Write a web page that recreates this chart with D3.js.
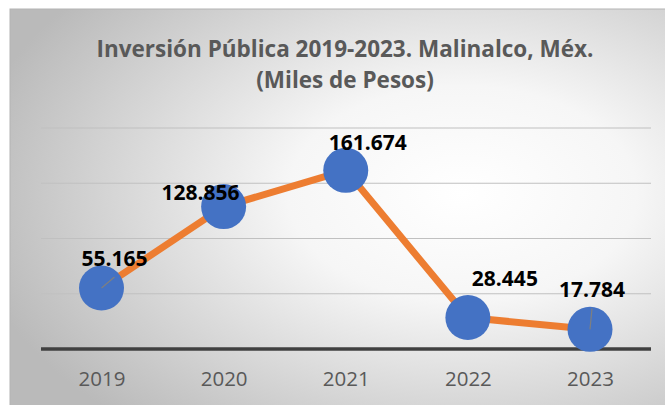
<!DOCTYPE html>
<html lang="es">
<head>
<meta charset="UTF-8">
<title>Inversión Pública 2019-2023</title>
<script src="https://d3js.org/d3.v7.min.js"></script>
<style>
  body { margin: 0; background: #fff; }
  text { font-family: "Open Sans", "Noto Sans", sans-serif; }
</style>
</head>
<body>
<svg width="665" height="405"></svg>
<script>
// data
const years = ["2019", "2020", "2021", "2022", "2023"];
const values = [55.165, 128.856, 161.674, 28.445, 17.784];
const labels = ["55.165", "128.856", "161.674", "28.445", "17.784"];
const gridTicks = [0, 50, 100, 150, 200];
// label offsets from the point (dx, dy)
const labelDx = [13, -23, 22, 37, 2];
const labelDy = [-22, -7, -20, -32, -32];

const svg = d3.select("svg");

// background gradient for the chart area
const defs = svg.append("defs");
const grad = defs.append("radialGradient")
    .attr("id", "bg")
    .attr("cx", "0.68").attr("cy", "0.45").attr("r", "0.75");
grad.append("stop").attr("offset", "0").attr("stop-color", "#ffffff");
grad.append("stop").attr("offset", "0.35").attr("stop-color", "#f6f6f6");
grad.append("stop").attr("offset", "1").attr("stop-color", "#bababa");

svg.append("rect")
    .attr("x", 10).attr("y", 9)
    .attr("width", 665).attr("height", 410)
    .attr("fill", "url(#bg)")
    .attr("stroke", "#b4b4b4")
    .attr("stroke-width", 1);

// title
const title = svg.append("text")
    .attr("text-anchor", "middle")
    .attr("fill", "#595959")
    .attr("font-weight", "bold")
    .attr("font-size", 22.5);
title.append("tspan").attr("x", 345).attr("y", 57).text("Inversión Pública 2019-2023. Malinalco, Méx.");
title.append("tspan").attr("x", 345).attr("y", 88).text("(Miles de Pesos)");

const x = d3.scalePoint()
    .domain(years)
    .range([101.5, 590])
    .padding(0);

const y = d3.scaleLinear()
    .domain([0, 200])
    .range([349, 128]);

// gridlines
svg.append("g")
    .selectAll("line")
    .data(gridTicks.filter(d => d > 0))
    .enter().append("line")
    .attr("x1", 41).attr("x2", 651)
    .attr("y1", d => y(d)).attr("y2", d => y(d))
    .attr("stroke", "#c0c0c0")
    .attr("stroke-width", 1.2);

// x axis
const xAxis = svg.append("g")
    .attr("transform", `translate(0,${y(0)})`)
    .call(d3.axisBottom(x).tickSize(0).tickPadding(22));
xAxis.select(".domain").remove();
xAxis.append("line")
    .attr("x1", 41).attr("x2", 651)
    .attr("stroke", "#404040")
    .attr("stroke-width", 3.5);
xAxis.selectAll(".tick text")
    .attr("font-size", 20.5)
    .attr("fill", "#595959")
    .attr("font-family", "'Open Sans', sans-serif");

// line
const line = d3.line()
    .x((d, i) => x(years[i]))
    .y(d => y(d));

svg.append("path")
    .datum(values)
    .attr("d", line)
    .attr("fill", "none")
    .attr("stroke", "#ED7D31")
    .attr("stroke-width", 7)
    .attr("stroke-linejoin", "round");

// markers
svg.append("g")
    .selectAll("circle")
    .data(values)
    .enter().append("circle")
    .attr("cx", (d, i) => x(years[i]))
    .attr("cy", d => y(d))
    .attr("r", 22.5)
    .attr("fill", "#4472C4");

// leader lines (only where labels were moved away)
svg.append("g")
    .selectAll("line")
    .data([0, 4])
    .enter().append("line")
    .attr("x1", i => x(years[i]))
    .attr("y1", i => y(values[i]))
    .attr("x2", i => x(years[i]) + labelDx[i])
    .attr("y2", i => y(values[i]) + labelDy[i] + 11)
    .attr("stroke", "#7f7f7f")
    .attr("stroke-width", 1.2);

// data labels
svg.append("g")
    .selectAll("text")
    .data(values)
    .enter().append("text")
    .attr("x", (d, i) => x(years[i]) + labelDx[i])
    .attr("y", (d, i) => y(d) + labelDy[i])
    .attr("text-anchor", "middle")
    .attr("font-weight", "bold")
    .attr("font-size", 21)
    .attr("fill", "#000")
    .text((d, i) => labels[i]);
</script>
</body>
</html>
